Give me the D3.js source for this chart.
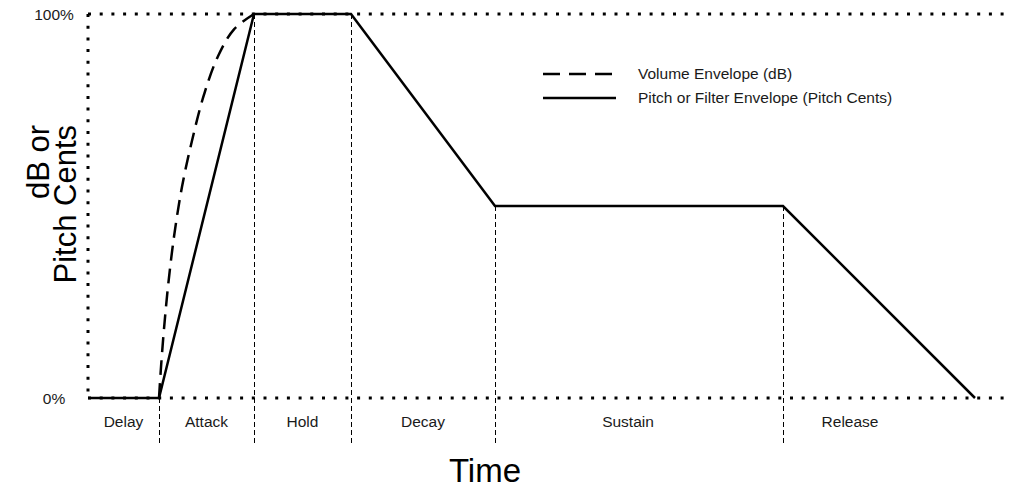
<!DOCTYPE html>
<html>
<head>
<meta charset="utf-8">
<script src="https://cdn.jsdelivr.net/npm/d3@7"></script>
<style>
  html, body { margin: 0; padding: 0; background: #fff; }
  svg { display: block; font-family: "Liberation Sans", Arial, sans-serif; }
</style>
</head>
<body>
<svg id="chart" width="1018" height="488"></svg>
<script>
// ---- data ----
const phaseNames = ["Delay", "Attack", "Hold", "Decay", "Sustain", "Release"];
// phase boundary times (arbitrary time units)
const phaseBounds = [0, 71, 166, 263, 407, 695, 887];
// label positions (time units) for each phase name
const phaseLabelTimes = [35.5, 118.5, 214.5, 335, 540, 762];
// pitch / filter envelope (solid): [time, level 0..1]
const pitchTimes  = [0, 71, 166, 263, 407, 695, 887];
const pitchLevels = [0, 0, 1, 1, 0.5, 0.5, 0];
// volume envelope (dashed) attack segment
const volTimes  = [71, 73, 76, 80, 86, 94, 104, 116, 130, 146, 166];
const volLevels = [0, 0.08, 0.18, 0.29, 0.42, 0.55, 0.67, 0.79, 0.89, 0.96, 1];
const yTickLabels = ["0%", "100%"];
const yTickValues = [0, 1];
const legendLabels = ["Volume Envelope (dB)", "Pitch or Filter Envelope (Pitch Cents)"];

// ---- scales ----
const svg = d3.select("#chart");
const x = d3.scaleLinear().domain([0, 922]).range([88, 1010]);
const y = d3.scaleLinear().domain([0, 1]).range([398, 14]);

// dotted frame lines
const dotted = "3,8.7";
svg.append("line").attr("x1", x(0)).attr("x2", x(922)).attr("y1", y(1)).attr("y2", y(1))
  .attr("stroke", "#000").attr("stroke-width", 3).attr("stroke-dasharray", dotted);
svg.append("line").attr("x1", x(0)).attr("x2", x(922)).attr("y1", y(0)).attr("y2", y(0))
  .attr("stroke", "#000").attr("stroke-width", 3).attr("stroke-dasharray", dotted);
svg.append("line").attr("x1", x(0)).attr("x2", x(0)).attr("y1", y(1)).attr("y2", y(0))
  .attr("stroke", "#000").attr("stroke-width", 3).attr("stroke-dasharray", dotted);

// vertical dashed phase dividers
const dividerIdx = [1, 2, 3, 4, 5];
svg.selectAll("line.div").data(dividerIdx).join("line")
  .attr("class", "div")
  .attr("x1", i => x(phaseBounds[i]) + 0.5).attr("x2", i => x(phaseBounds[i]) + 0.5)
  .attr("y1", i => y(pitchLevels[i]))
  .attr("y2", 444)
  .attr("stroke", "#000").attr("stroke-width", 1).attr("stroke-dasharray", "5,3");

// phase labels
svg.selectAll("text.phase").data(phaseNames).join("text")
  .attr("class", "phase")
  .attr("x", (d, i) => x(phaseLabelTimes[i]))
  .attr("y", 427)
  .attr("text-anchor", "middle")
  .attr("font-size", 15.5)
  .attr("fill", "#1a1a1a")
  .text(d => d);

// y tick labels
svg.selectAll("text.ytick").data(yTickValues).join("text")
  .attr("class", "ytick")
  .attr("x", 54)
  .attr("y", d => y(d) + 5.5)
  .attr("text-anchor", "middle")
  .attr("font-size", 15.5)
  .attr("fill", "#1a1a1a")
  .text((d, i) => yTickLabels[i]);

// envelopes
const line = d3.line().x(d => x(d[0])).y(d => y(d[1]));
const pitchData = pitchTimes.map((t, i) => [t, pitchLevels[i]]);
svg.append("path").attr("d", line(pitchData))
  .attr("fill", "none").attr("stroke", "#000").attr("stroke-width", 2.5)
  .attr("stroke-linejoin", "miter");

const volData = volTimes.map((t, i) => [t, volLevels[i]]);
const curveLine = d3.line().x(d => x(d[0])).y(d => y(d[1])).curve(d3.curveCatmullRom);
svg.append("path").attr("d", curveLine(volData))
  .attr("fill", "none").attr("stroke", "#000").attr("stroke-width", 2.5)
  .attr("stroke-dasharray", "15,8");

// legend
const legend = svg.append("g");
legend.append("line").attr("x1", 543).attr("x2", 612).attr("y1", 74).attr("y2", 74)
  .attr("stroke", "#000").attr("stroke-width", 2.5).attr("stroke-dasharray", "17,9");
legend.append("line").attr("x1", 543).attr("x2", 616).attr("y1", 98).attr("y2", 98)
  .attr("stroke", "#000").attr("stroke-width", 2.5);
legend.selectAll("text").data(legendLabels).join("text")
  .attr("x", 638).attr("y", (d, i) => 79 + i * 24)
  .attr("font-size", 15.5).attr("fill", "#1a1a1a")
  .text(d => d);

// axis titles
svg.append("text").attr("x", 485).attr("y", 482).attr("text-anchor", "middle")
  .attr("font-size", 33).attr("fill", "#000").text("Time");
const yt = svg.append("text").attr("transform", "translate(0,125) rotate(-90)")
  .attr("text-anchor", "end").attr("font-size", 31).attr("fill", "#000");
yt.append("tspan").attr("x", 0).attr("y", 49).text("dB or");
yt.append("tspan").attr("x", 0).attr("y", 76).text("Pitch Cents");
</script>
</body>
</html>
